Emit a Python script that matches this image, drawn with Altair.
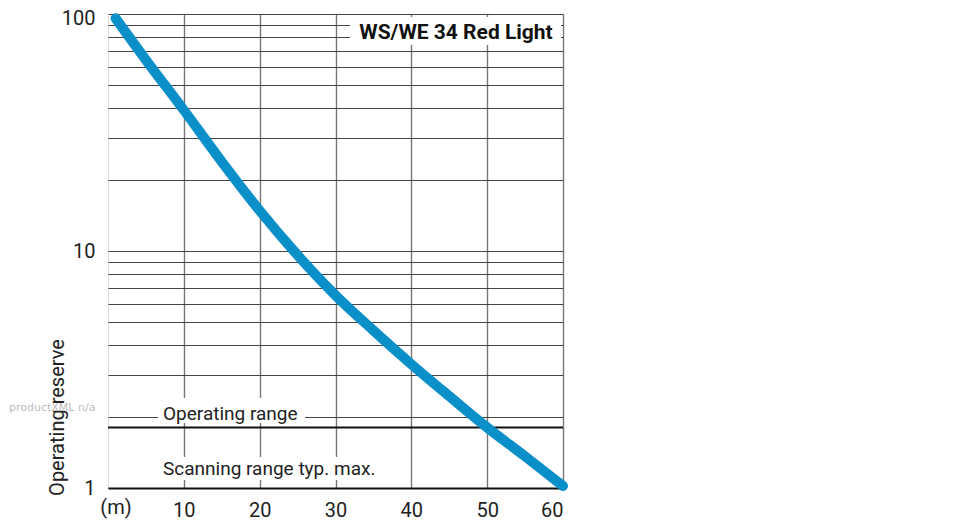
import altair as alt
import pandas as pd

# ---- data ----
distance_m = [1, 5, 10, 15, 20, 25, 30, 35, 40, 45, 50, 55, 60]
operating_reserve = [96, 64, 39.3, 23.8, 14.8, 9.6, 6.5, 4.62, 3.33, 2.44, 1.8, 1.36, 1.02]
operating_range_level = 1.8
x_ticks = [10, 20, 30, 40, 50, 60]
y_grid = [1, 2, 3, 4, 5, 6, 7, 8, 9, 10, 20, 30, 40, 50, 60, 70, 80, 90, 100]
chart_title = "WS/WE 34 Red Light"
label_operating = "Operating range"
label_scanning = "Scanning range typ. max."
y_title = "Operating reserve"
x_unit = "(m)"
watermark = "productXML n/a"

W, H = 455, 474
FONT = "Roboto"

df = pd.DataFrame({"distance": distance_m, "reserve": operating_reserve})
one = pd.DataFrame({"k": [0]})

xscale = alt.Scale(domain=[0, 60], nice=False, zero=False)
yscale = alt.Scale(type="log", domain=[1, 100], nice=False)

line = alt.Chart(df).mark_line(
    interpolate="monotone", strokeWidth=10, strokeCap="round", color="#0a8fc9"
).encode(
    x=alt.X("distance:Q", scale=xscale,
            axis=alt.Axis(values=x_ticks, title=None, grid=True, ticks=False,
                          labelFontSize=20, labelColor="#222", labelFont=FONT,
                          labelPadding=12, domainColor="#111", domainWidth=2,
                          gridColor="#777", gridWidth=1.4)),
    y=alt.Y("reserve:Q", scale=yscale,
            axis=alt.Axis(values=y_grid, title=y_title, grid=True, ticks=False,
                          labelExpr="(datum.value == 1 || datum.value == 10 || datum.value == 100) ? datum.label : ''",
                          format="d",
                          labelOffset={"expr": "datum.value == 100 ? 4 : 0"},
                          labelFontSize=20, labelColor="#222", labelFont=FONT,
                          labelPadding=13, domain=False,
                          gridColor="#444", gridWidth=1.1,
                          titleFontSize=20, titleFont=FONT, titleColor="#222",
                          titleFontWeight="normal", titleAngle=270,
                          titleX=-51, titleY=403, titleAlign="center",
                          titleBaseline="middle")),
)

rule = alt.Chart(one).mark_rule(color="#111", strokeWidth=2).encode(
    y=alt.datum(operating_range_level, scale=yscale)
)

def box(x1, x2, y1, y2):
    return alt.Chart(one).mark_rect(color="white").encode(
        x=alt.value(x1), x2=alt.value(x2), y=alt.value(y1), y2=alt.value(y2)
    )

def label(text, x, y, size=18, weight="normal", align="left", color="#222", font=FONT):
    return alt.Chart(one).mark_text(
        text=text, fontSize=size, fontWeight=weight, align=align,
        baseline="middle", color=color, font=font
    ).encode(x=alt.value(x), y=alt.value(y))

layers = [
    box(242, 453, 3, 31),
    box(50, 197, 384, 409),
    box(50, 272, 443, 466),
    rule,
    line,
    label(chart_title, 348, 19, size=21, weight="bold", align="center", color="#111"),
    label(label_operating, 55, 400, size=19),
    label(label_scanning, 55, 455, size=19),
    label(x_unit, 8, 494, size=20, align="center"),
    label(watermark, -99, 394, size=11, color="#bdbdbd", font="DejaVu Sans"),
]

chart = alt.layer(*layers).properties(
    width=W, height=H,
    autosize=alt.AutoSizeParams(type="none"),
    padding={"left": 100, "top": 6, "right": 20, "bottom": 32},
).configure_view(
    stroke="#777", strokeWidth=1.5
).configure(background="white")

chart.save("out.html", embed_options={"renderer": "svg", "actions": False})
